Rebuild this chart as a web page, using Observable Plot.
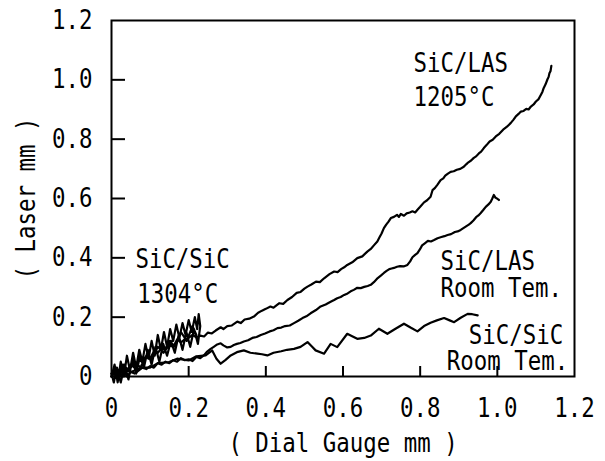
<!DOCTYPE html>
<html><head><meta charset="utf-8">
<script src="https://cdn.jsdelivr.net/npm/d3@7"></script>
<script src="https://cdn.jsdelivr.net/npm/@observablehq/plot@0.6"></script>
<style>body{margin:0;background:#fff}</style>
</head><body><div id="chart"></div>
<script>
const xTicks = [0, 0.2, 0.4, 0.6, 0.8, 1.0, 1.2];
const yTicks = [0, 0.2, 0.4, 0.6, 0.8, 1.0, 1.2];
const xTickMarks = [0.2, 0.4, 0.6, 0.8, 1.0];
const yTickMarks = [0.2, 0.4, 0.6, 0.8, 1.0];
const xLabel = "( Dial Gauge mm )";
const yLabel = "( Laser mm )";

const sicLas1205 = [[0,0],[0.01,0.025],[0.02,0.005],[0.03,0.035],[0.04,0.02],[0.05,0.04],[0.06,0.03],[0.07,0.055],[0.08,0.05],[0.09,0.065],[0.10,0.06],[0.11,0.085],[0.12,0.08],[0.13,0.095],[0.14,0.09],[0.15,0.105],[0.16,0.10],[0.17,0.125],[0.18,0.115],[0.19,0.125],[0.20,0.13],[0.21,0.14],[0.22,0.132],[0.23,0.138],[0.24,0.135],[0.25,0.148],[0.26,0.145],[0.27,0.155],[0.283,0.166],[0.29,0.16],[0.30,0.17],[0.312,0.172],[0.326,0.185],[0.335,0.18],[0.345,0.192],[0.357,0.195],[0.369,0.202],[0.38,0.215],[0.39,0.222],[0.40,0.228],[0.412,0.236],[0.42,0.232],[0.435,0.247],[0.445,0.245],[0.456,0.258],[0.468,0.268],[0.48,0.282],[0.49,0.285],[0.50,0.296],[0.508,0.303],[0.518,0.31],[0.53,0.32],[0.54,0.318],[0.551,0.331],[0.565,0.345],[0.577,0.354],[0.586,0.352],[0.595,0.362],[0.603,0.368],[0.611,0.376],[0.624,0.385],[0.637,0.399],[0.65,0.405],[0.663,0.421],[0.672,0.43],[0.68,0.442],[0.689,0.455],[0.695,0.47],[0.70,0.482],[0.706,0.5],[0.712,0.512],[0.718,0.522],[0.724,0.534],[0.732,0.538],[0.74,0.545],[0.745,0.538],[0.75,0.548],[0.758,0.542],[0.765,0.55],[0.773,0.553],[0.78,0.557],[0.787,0.553],[0.793,0.562],[0.80,0.572],[0.81,0.587],[0.818,0.594],[0.827,0.606],[0.832,0.628],[0.838,0.635],[0.845,0.647],[0.853,0.662],[0.86,0.668],[0.865,0.677],[0.872,0.684],[0.879,0.69],[0.887,0.692],[0.895,0.697],[0.904,0.7],[0.913,0.707],[0.92,0.716],[0.925,0.722],[0.932,0.728],[0.939,0.737],[0.945,0.742],[0.952,0.752],[0.958,0.758],[0.965,0.77],[0.972,0.78],[0.98,0.792],[0.988,0.798],[0.996,0.809],[1.005,0.818],[1.015,0.832],[1.025,0.842],[1.035,0.855],[1.042,0.866],[1.048,0.877],[1.055,0.885],[1.061,0.893],[1.068,0.895],[1.075,0.902],[1.081,0.9],[1.087,0.91],[1.094,0.917],[1.10,0.927],[1.107,0.935],[1.113,0.95],[1.117,0.96],[1.12,0.972],[1.125,0.985],[1.13,1.002],[1.133,1.01],[1.135,1.022],[1.138,1.03],[1.14,1.047]];
const sicLasRoom = [[0,0],[0.01,0.015],[0.02,0.005],[0.03,0.02],[0.04,0.0],[0.05,0.015],[0.06,0.02],[0.07,0.025],[0.08,0.03],[0.09,0.025],[0.10,0.035],[0.11,0.03],[0.12,0.045],[0.13,0.04],[0.14,0.05],[0.15,0.045],[0.16,0.055],[0.17,0.05],[0.18,0.062],[0.19,0.055],[0.20,0.058],[0.21,0.052],[0.22,0.066],[0.23,0.062],[0.24,0.072],[0.248,0.084],[0.256,0.092],[0.265,0.1],[0.274,0.108],[0.283,0.112],[0.29,0.105],[0.30,0.098],[0.309,0.1],[0.317,0.106],[0.325,0.11],[0.334,0.113],[0.343,0.118],[0.354,0.122],[0.365,0.13],[0.376,0.133],[0.387,0.14],[0.398,0.145],[0.41,0.152],[0.42,0.156],[0.43,0.163],[0.44,0.165],[0.45,0.17],[0.462,0.172],[0.473,0.18],[0.484,0.188],[0.495,0.197],[0.505,0.203],[0.516,0.213],[0.53,0.224],[0.542,0.236],[0.555,0.243],[0.568,0.252],[0.577,0.258],[0.585,0.264],[0.594,0.268],[0.603,0.275],[0.612,0.28],[0.62,0.287],[0.628,0.292],[0.637,0.299],[0.646,0.298],[0.655,0.302],[0.664,0.305],[0.672,0.309],[0.68,0.318],[0.69,0.332],[0.698,0.34],[0.706,0.349],[0.713,0.356],[0.72,0.362],[0.726,0.364],[0.732,0.366],[0.74,0.37],[0.748,0.372],[0.757,0.371],[0.767,0.376],[0.774,0.388],[0.78,0.402],[0.787,0.41],[0.793,0.416],[0.80,0.43],[0.805,0.442],[0.812,0.449],[0.82,0.457],[0.828,0.455],[0.836,0.46],[0.845,0.466],[0.855,0.47],[0.863,0.473],[0.871,0.477],[0.88,0.48],[0.89,0.487],[0.897,0.489],[0.905,0.494],[0.912,0.5],[0.92,0.507],[0.926,0.512],[0.931,0.517],[0.938,0.526],[0.945,0.537],[0.951,0.543],[0.957,0.551],[0.964,0.562],[0.97,0.572],[0.977,0.58],[0.983,0.589],[0.987,0.6],[0.991,0.612],[0.995,0.603],[0.999,0.6],[1.004,0.595]];
const sicSicRoom = [[0,0.01],[0.02,0.0],[0.04,0.02],[0.06,0.01],[0.08,0.03],[0.10,0.03],[0.12,0.045],[0.148,0.048],[0.17,0.06],[0.2,0.054],[0.22,0.068],[0.244,0.071],[0.261,0.088],[0.272,0.06],[0.283,0.043],[0.295,0.055],[0.309,0.071],[0.325,0.082],[0.343,0.088],[0.36,0.08],[0.378,0.077],[0.39,0.075],[0.404,0.071],[0.42,0.08],[0.44,0.085],[0.455,0.09],[0.473,0.093],[0.49,0.10],[0.508,0.116],[0.52,0.10],[0.529,0.088],[0.551,0.077],[0.568,0.11],[0.585,0.099],[0.611,0.144],[0.625,0.135],[0.637,0.127],[0.655,0.13],[0.672,0.138],[0.693,0.161],[0.715,0.144],[0.735,0.16],[0.758,0.178],[0.775,0.165],[0.793,0.152],[0.81,0.17],[0.827,0.181],[0.845,0.19],[0.862,0.197],[0.875,0.19],[0.888,0.183],[0.905,0.198],[0.923,0.211],[0.935,0.21],[0.949,0.206]];
const sicSic1304 = [[0,0],[0.008,0.04],[0.016,-0.02],[0.024,0.05],[0.032,0.0],[0.04,0.07],[0.048,0.02],[0.056,0.08],[0.064,0.03],[0.072,0.09],[0.08,0.05],[0.088,0.11],[0.096,0.06],[0.104,0.12],[0.112,0.07],[0.12,0.14],[0.128,0.09],[0.136,0.15],[0.144,0.1],[0.152,0.16],[0.16,0.12],[0.168,0.175],[0.176,0.13],[0.184,0.18],[0.192,0.14],[0.2,0.19],[0.208,0.15],[0.216,0.2],[0.222,0.16],[0.226,0.21],[0.23,0.17],
  [0.224,0.11],[0.214,0.16],[0.204,0.1],[0.194,0.15],[0.184,0.09],[0.174,0.14],[0.164,0.08],[0.154,0.12],[0.144,0.07],[0.134,0.11],[0.124,0.05],[0.114,0.1],[0.104,0.04],[0.094,0.09],[0.084,0.03],[0.074,0.07],[0.064,0.01],[0.054,0.06],[0.044,-0.01],[0.034,0.04],[0.024,-0.02],[0.014,0.03],[0.006,-0.02],[0,0.01],
  [0.01,0.03],[0.02,0.0],[0.03,0.04],[0.045,0.02],[0.06,0.05],[0.075,0.03],[0.09,0.07],[0.105,0.06],[0.12,0.1],[0.135,0.08],[0.15,0.12],[0.165,0.1],[0.18,0.15],[0.195,0.12],[0.21,0.17],[0.22,0.14]];

const seriesNames = ["SiC/LAS 1205°C", "SiC/LAS Room Tem.", "SiC/SiC Room Tem.", "SiC/SiC 1304°C"];
const seriesData = [sicLas1205, sicLasRoom, sicSicRoom, sicSic1304];
const table = seriesData.flatMap((pts, i) => pts.map(([x, y]) => ({series: seriesNames[i], x, y})));

const notes = [
  {text: "SiC/LAS", x: 0.783, y: 1.055},
  {text: "1205°C", x: 0.783, y: 0.94},
  {text: "SiC/SiC", x: 0.062, y: 0.394},
  {text: "1304°C", x: 0.067, y: 0.276},
  {text: "SiC/LAS", x: 0.853, y: 0.388},
  {text: "Room Tem.", x: 0.853, y: 0.298},
  {text: "SiC/SiC", x: 0.926, y: 0.138},
  {text: "Room Tem.", x: 0.869, y: 0.051}
];

const fmt = d => d === 0 ? "0" : d.toFixed(1);

const chart = Plot.plot({
  width: 605, height: 461,
  marginLeft: 111, marginRight: 31, marginTop: 20, marginBottom: 85,
  x: {domain: [0, 1.2]},
  y: {domain: [0, 1.2]},
  style: {fontFamily: "'DejaVu Sans Mono', monospace", fontSize: "27px", background: "white", color: "black"},
  marks: [
    Plot.axisX({ticks: xTicks, tickSize: 0, tickPadding: 21, tickFormat: fmt, label: null}),
    Plot.axisY({ticks: yTicks, tickSize: 0, tickPadding: 19, tickFormat: fmt, label: null}),
    Plot.ruleX(xTickMarks, {x: d => d, y1: 0, y2: 0, insetTop: 0, insetBottom: 10, stroke: "black", strokeWidth: 2}),
    Plot.ruleY(yTickMarks, {y: d => d, x1: 0, x2: 0, insetLeft: 0, insetRight: -14, stroke: "black", strokeWidth: 2}),
    Plot.line(table, {x: "x", y: "y", z: "series", stroke: "black", strokeWidth: 2.2}),
    Plot.text(notes, {x: "x", y: "y", text: "text", textAnchor: "start"}),
    Plot.frame({stroke: "black", strokeWidth: 2}),
    Plot.text([xLabel], {text: d => d, frameAnchor: "bottom", textAnchor: "middle", lineAnchor: "middle", dy: 67}),
    Plot.text([yLabel], {text: d => d, frameAnchor: "left", textAnchor: "middle", lineAnchor: "middle", dx: -85, rotate: -90})
  ]
});

const SX = 0.83;
for (const t of chart.querySelectorAll("text")) {
  const tr = t.getAttribute("transform") || "";
  const x = +t.getAttribute("x") || 0, y = +t.getAttribute("y") || 0;
  t.setAttribute("transform", `${tr} translate(${x},${y}) scale(${SX},1) translate(${-x},${-y})`);
}
document.getElementById("chart").appendChild(chart);
</script>
</body></html>
